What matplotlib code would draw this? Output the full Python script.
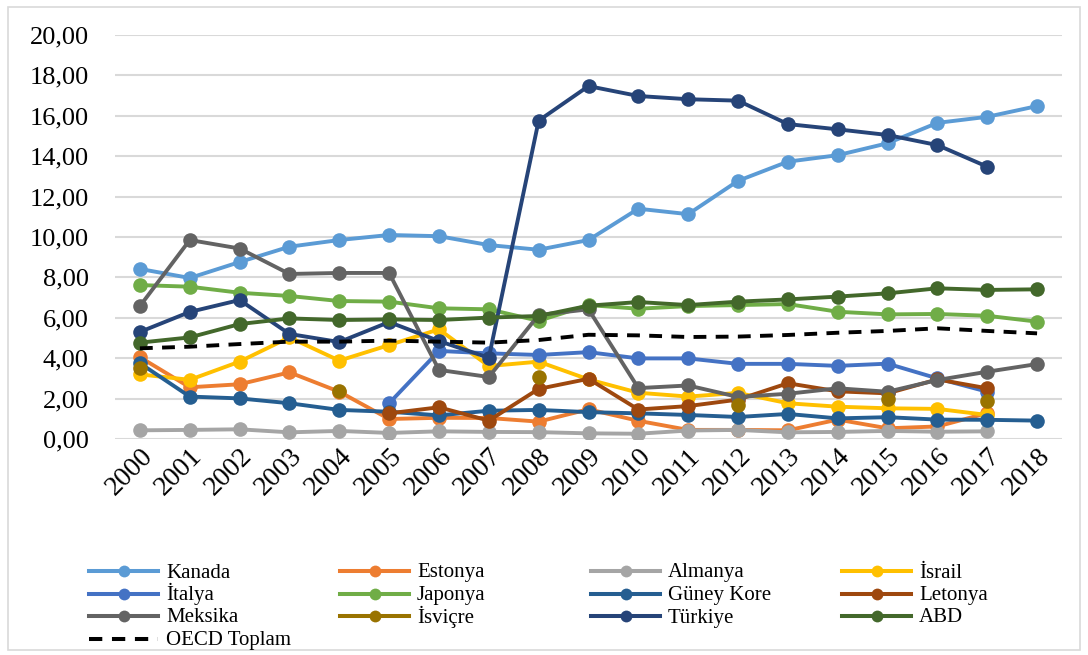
import numpy as np
import matplotlib
matplotlib.use("Agg")
import matplotlib.pyplot as plt
import matplotlib.transforms as mtransforms
from matplotlib.patches import Rectangle
from matplotlib.lines import Line2D

nan = np.nan
years = list(range(2000, 2019))

kanada = [8.42, 7.97, 8.76, 9.52, 9.85, 10.10, 10.04, 9.60, 9.37, 9.85, 11.40, 11.13, 12.78, 13.73, 14.05, 14.64, 15.65, 15.95, 16.48]
estonya = [4.05, 2.56, 2.71, 3.30, 2.34, 0.99, 1.05, 1.04, 0.86, 1.47, 0.90, 0.45, 0.45, 0.43, 0.96, 0.53, 0.62, 1.28, nan]
almanya = [0.43, 0.45, 0.48, 0.33, 0.40, 0.30, 0.38, 0.35, 0.34, 0.28, 0.26, 0.42, 0.45, 0.33, 0.35, 0.40, 0.36, 0.38, nan]
israil = [3.20, 2.93, 3.83, 5.03, 3.88, 4.65, 5.43, 3.61, 3.83, 2.95, 2.29, 2.10, 2.28, 1.77, 1.60, 1.52, 1.49, 1.19, nan]
italya = [nan, nan, nan, nan, nan, 1.77, 4.36, 4.24, 4.16, 4.30, 3.99, 3.99, 3.72, 3.72, 3.62, 3.73, 3.00, 2.34, nan]
japonya = [7.62, 7.54, 7.24, 7.08, 6.83, 6.80, 6.47, 6.42, 5.85, 6.63, 6.45, 6.58, 6.63, 6.68, 6.30, 6.17, 6.19, 6.10, 5.81]
guney_kore = [3.75, 2.10, 2.01, 1.77, 1.44, 1.35, 1.17, 1.40, 1.44, 1.33, 1.27, 1.19, 1.09, 1.24, 1.02, 1.08, 0.96, 0.95, 0.91]
letonya = [nan, nan, nan, nan, nan, 1.27, 1.57, 0.91, 2.48, 2.98, 1.46, 1.63, 1.95, 2.76, 2.36, 2.26, 2.95, 2.51, nan]
meksika = [6.58, 9.85, 9.43, 8.17, 8.22, 8.22, 3.42, 3.07, 6.14, 6.42, 2.52, 2.65, 2.08, 2.24, 2.51, 2.34, 2.92, 3.33, 3.71]
isvicre = [3.50, nan, nan, nan, 2.38, nan, nan, nan, 3.05, nan, nan, nan, 1.66, nan, nan, 1.97, nan, 1.89, nan]
turkiye = [5.30, 6.29, 6.88, 5.20, 4.80, 5.79, 4.85, 4.02, 15.76, 17.47, 16.98, 16.82, 16.75, 15.59, 15.33, 15.05, 14.55, 13.48, nan]
abd = [4.77, 5.03, 5.69, 5.97, 5.89, 5.92, 5.89, 6.01, 6.09, 6.60, 6.78, 6.63, 6.80, 6.91, 7.05, 7.21, 7.46, 7.38, 7.41]
oecd = [4.49, 4.57, 4.70, 4.82, 4.82, 4.87, 4.82, 4.77, 4.90, 5.16, 5.13, 5.05, 5.07, 5.15, 5.26, 5.35, 5.48, 5.35, 5.23]

series = [
    ("Kanada", kanada, "#5B9BD5"),
    ("Estonya", estonya, "#ED7D31"),
    ("Almanya", almanya, "#A5A5A5"),
    ("İsrail", israil, "#FFC000"),
    ("İtalya", italya, "#4472C4"),
    ("Japonya", japonya, "#70AD47"),
    ("Güney Kore", guney_kore, "#255E91"),
    ("Letonya", letonya, "#9E480E"),
    ("Meksika", meksika, "#636363"),
    ("İsviçre", isvicre, "#997300"),
    ("Türkiye", turkiye, "#264478"),
    ("ABD", abd, "#43682B"),
]
oecd_label = "OECD Toplam"
dash = (0, (3.3, 2.4))

plt.rcParams["font.family"] = ["Liberation Serif", "DejaVu Serif"]

W, H = 1088, 655
fig = plt.figure(figsize=(W / 100, H / 100), dpi=100)
ax = fig.add_axes([115 / W, 1 - 439 / H, (1062 - 115) / W, (439 - 35) / H])

x = np.arange(len(years))
for name, vals, col in series:
    ax.plot(x, vals, color=col, lw=2.8, marker="o", ms=10.5,
            markeredgewidth=0, solid_capstyle="round")
ax.plot(x, oecd, color="black", lw=2.8, ls=dash)

ax.set_xlim(-0.5, len(years) - 0.5)
ax.set_ylim(0, 20)
yt = np.arange(0, 21, 2)
ax.set_yticks(yt)
ax.set_yticklabels([f"{v:.2f}".replace(".", ",") for v in yt], fontsize=19)
ax.set_xticks(x)
ax.set_xticklabels([str(y) for y in years], fontsize=20, rotation=45,
                   ha="right", va="top", rotation_mode="anchor")
offset = mtransforms.ScaledTranslation(0.2, -0.02, fig.dpi_scale_trans)
for lbl in ax.get_xticklabels():
    lbl.set_transform(lbl.get_transform() + offset)

ax.tick_params(axis="both", length=0)
ax.tick_params(axis="y", pad=19)
ax.grid(axis="y", color="#D9D9D9", lw=1.5)
ax.set_axisbelow(True)
for s in ax.spines.values():
    s.set_visible(False)

# Legend laid out row by row in four columns
entries = [(n, c, "-") for n, _, c in series] + [(oecd_label, "black", dash)]
col_x = [89, 340, 591, 842]
row_y = [571, 593.5, 616, 638.5]
line_len = 69
for i, (name, col, ls) in enumerate(entries):
    r, c = divmod(i, 4)
    x0 = col_x[c]
    y0 = row_y[r]
    xs = [x0 / W, (x0 + line_len) / W]
    ys = [1 - y0 / H] * 2
    fig.add_artist(Line2D(xs, ys, transform=fig.transFigure, color=col, lw=2.9, ls=ls))
    if ls == "-":
        fig.add_artist(Line2D([(x0 + line_len / 2) / W], [1 - y0 / H], transform=fig.transFigure,
                              color=col, marker="o", ms=8.5, markeredgewidth=0, ls="none"))
    fig.text((x0 + line_len + 8) / W, 1 - (y0 + 6.5) / H, name, fontsize=15,
             ha="left", va="baseline")

fig.patches.append(Rectangle((0.007, 0.008), 0.986, 0.982, transform=fig.transFigure,
                             fill=False, edgecolor="#D9D9D9", lw=1.2))

fig.savefig("out.png", dpi=100)
